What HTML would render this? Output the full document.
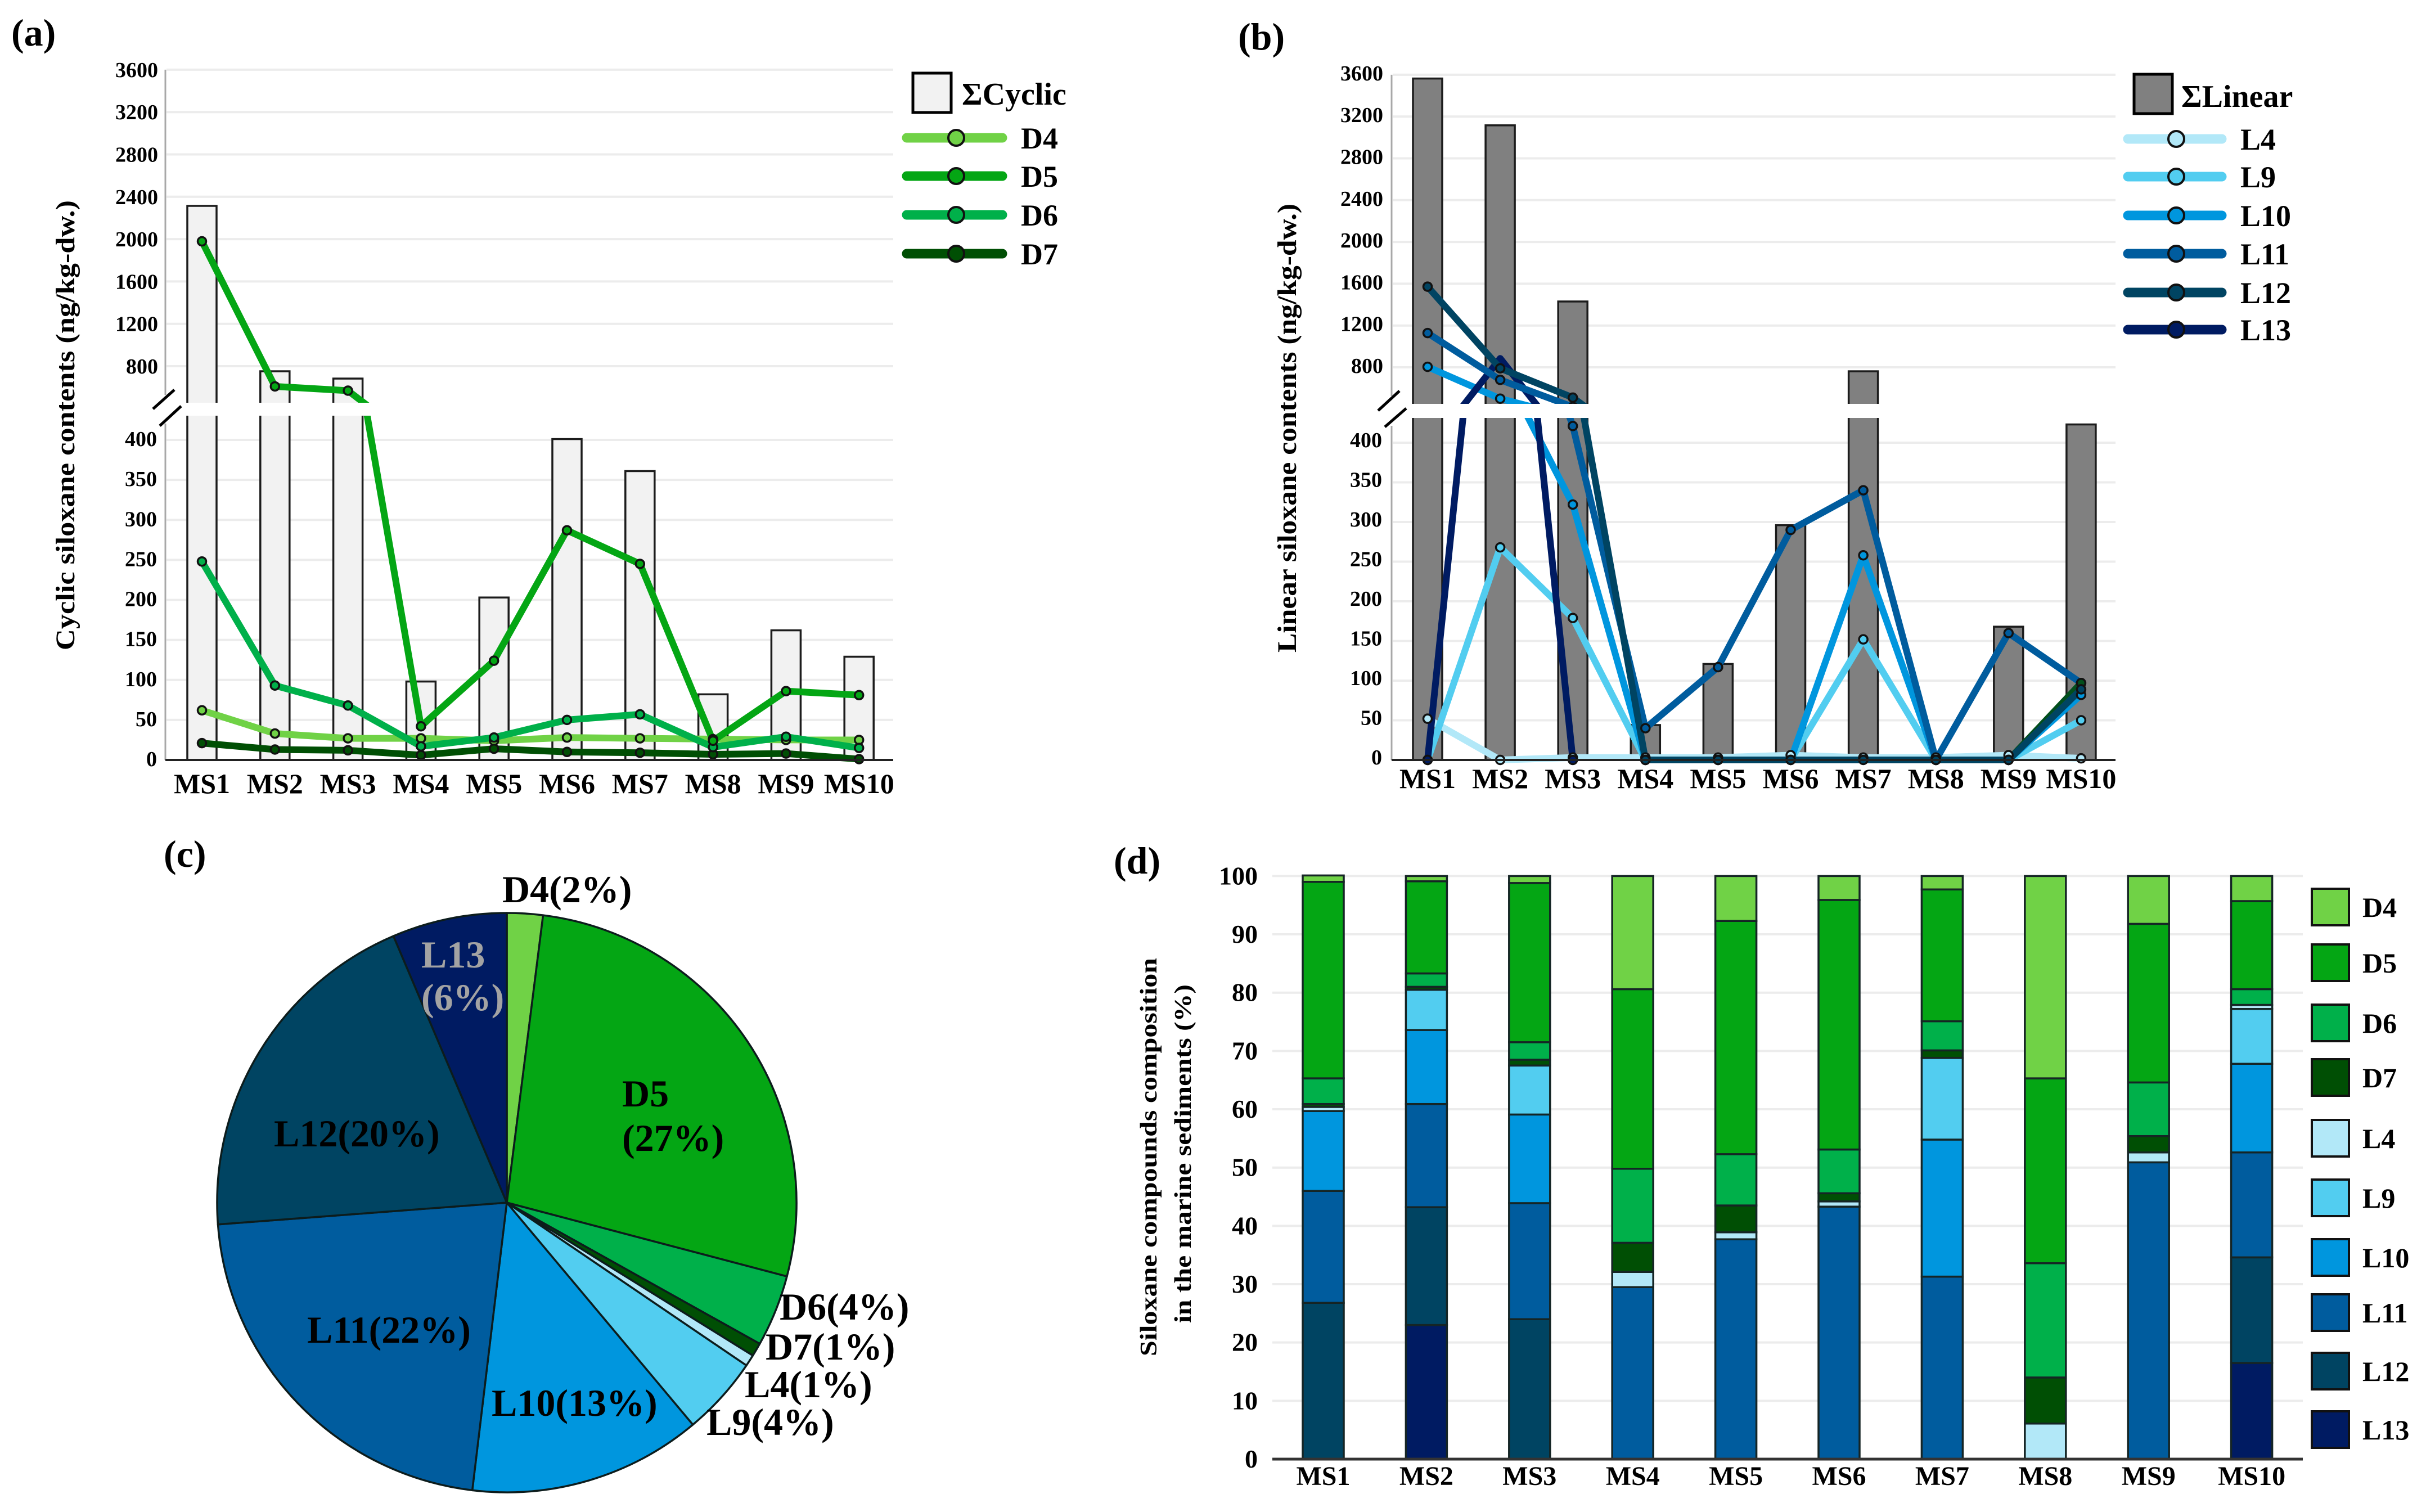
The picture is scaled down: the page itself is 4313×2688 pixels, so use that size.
<!DOCTYPE html>
<html lang="en">
<head>
<meta charset="utf-8">
<title>Siloxane contents in marine sediments</title>
<style>
html,body{margin:0;padding:0;background:#fff;}
svg{display:block;}
text{font-family:"Liberation Serif","DejaVu Serif",serif;font-weight:bold;fill:#000;}
</style>
</head>
<body>
<svg id="chart" xmlns="http://www.w3.org/2000/svg" width="4313" height="2688" viewBox="0 0 4313 2688">
  <rect x="0" y="0" width="4313" height="2688" fill="#ffffff"/>
  <defs>
    <clipPath id="clip-a-upper"><rect x="0" y="0" width="2100" height="716"/></clipPath>
    <clipPath id="clip-a-lower"><rect x="0" y="739" width="2100" height="640"/></clipPath>
    <clipPath id="clip-b-upper"><rect x="2200" y="0" width="1700" height="718"/></clipPath>
    <clipPath id="clip-b-lower"><rect x="2200" y="743" width="1700" height="640"/></clipPath>
  </defs>

  <text x="20" y="81" font-size="68">(a)</text>
  <text x="2201" y="88" font-size="68">(b)</text>
  <text x="291" y="1541" font-size="68">(c)</text>
  <text x="1980" y="1553" font-size="68">(d)</text>

  <g id="panel-a"></g>
  <g id="panel-b"></g>
  <g id="panel-c"></g>
  <g id="panel-d"></g>

  <text transform="translate(132 756) rotate(-90)" text-anchor="middle" font-size="48" textLength="800" lengthAdjust="spacingAndGlyphs">Cyclic siloxane contents (ng/kg-dw.)</text>
  <text transform="translate(2304 761) rotate(-90)" text-anchor="middle" font-size="48" textLength="798" lengthAdjust="spacingAndGlyphs">Linear siloxane contents (ng/kg-dw.)</text>
  <text transform="translate(2056 2057) rotate(-90)" text-anchor="middle" font-size="42" textLength="708" lengthAdjust="spacingAndGlyphs">Siloxane compounds composition</text>
  <text transform="translate(2117 2051) rotate(-90)" text-anchor="middle" font-size="42" textLength="602" lengthAdjust="spacingAndGlyphs">in the marine sediments (%)</text>

  <line x1="272" y1="727" x2="310" y2="693" stroke="#000" stroke-width="5"/>
  <line x1="284" y1="757" x2="322" y2="722" stroke="#000" stroke-width="5"/>
  <line x1="2450" y1="730" x2="2488" y2="695" stroke="#000" stroke-width="5"/>
  <line x1="2462" y1="759" x2="2500" y2="726" stroke="#000" stroke-width="5"/>

  <text x="893" y="1604" font-size="68">D4(2%)</text>
  <text x="1106" y="1967" font-size="68">D5</text>
  <text x="1106" y="2046" font-size="68">(27%)</text>
  <text x="1386" y="2346" font-size="68">D6(4%)</text>
  <text x="1361" y="2417" font-size="68">D7(1%)</text>
  <text x="1324" y="2484" font-size="68">L4(1%)</text>
  <text x="1256" y="2551" font-size="68">L9(4%)</text>
  <text x="874" y="2517" font-size="68">L10(13%)</text>
  <text x="546" y="2387" font-size="68">L11(22%)</text>
  <text x="487" y="2038" font-size="68">L12(20%)</text>
  <text x="749" y="1720" font-size="68" style="fill:#a3a3a3">L13</text>
  <text x="749" y="1796" font-size="68" style="fill:#a3a3a3">(6%)</text>
</svg>

<script>
// ---------- shared ----------
const siteNames = ['MS1','MS2','MS3','MS4','MS5','MS6','MS7','MS8','MS9','MS10'];
const upperTickLabels = [800,1200,1600,2000,2400,2800,3200,3600];
const lowerTickLabels = [0,50,100,150,200,250,300,350,400];

// ---------- panel a values ----------
const cyclicTotals = [2314,752,683,98,203,401,361,82,162,129];
const d4Values = [62,33,27,27,24,28,27,26,25,25];
const d7Values = [21,13,12,6,14,10,9,7,8,1];
const d6Values = [248,93,68,17,28,50,57,16,29,15];
const d5Values = [1979,609,569,42,124,287,245,24,86,81];

// ---------- panel b values ----------
const linearTotals = [3564,3116,1430,44,121,296,762,0,168,423];
const l4Values = [52,0,3,3,3,6,3,3,6,2];
const l9Values = [0,268,179,0,0,0,152,0,0,50];
const l10Values = [805,500,322,0,0,0,258,0,0,82];
const l13Values = [0,885,0,null,null,null,null,null,null,null];
const l13EndValues = [null,null,null,null,null,null,null,null,0,97];
const l12Values = [1572,790,510,0,0,0,0,0,0,89];
const l11Values = [1128,680,421,40,117,290,340,0,160,97];

// ---------- panel c values ----------
const pieNames = ['D4','D5','D6','D7','L4','L9','L10','L11','L12','L13'];
const pieShares = [2,27.1,4,0.75,0.65,4.4,13,21.9,19.8,6.4];

// ---------- panel d values (stack order bottom to top) ----------
const stackNames = ['L13','L12','L11','L10','L9','L4','D7','D6','D5','D4'];
const stackL13 = [0,23,0,0,0,0,0,0,0,16.5];
const stackL12 = [26.8,20.2,24,0,0,0,0,0,0,18.1];
const stackL11 = [19.2,17.7,19.9,29.5,37.7,43.3,31.3,0,50.9,18];
const stackL10 = [13.7,12.7,15.2,0,0,0,23.5,0,0,15.2];
const stackL9 = [0,6.9,8.4,0,0,0,14,0,0,9.4];
const stackL4 = [0.7,0,0,2.6,1.2,0.9,0,6.1,1.7,0.7];
const stackD7 = [0.5,0.5,1,5,4.6,1.4,1.3,7.9,2.8,0];
const stackD6 = [4.4,2.3,3,12.7,8.8,7.5,5,19.6,9.2,2.7];
const stackD5 = [33.7,15.8,27.3,30.8,40,42.8,22.6,31.7,27.2,15.1];
const stackD4 = [1.1,0.9,1.2,19.4,7.7,4.1,2.3,34.7,8.2,4.3];
const compositionTicks = [0,10,20,30,40,50,60,70,80,90,100];

// ---------- colours ----------
const colorD4 = '#70d246', colorD5 = '#04a614', colorD6 = '#00b04a', colorD7 = '#004f04';
const colorL4 = '#b2e8f8', colorL9 = '#52cdf0', colorL10 = '#0096de', colorL11 = '#005c9e', colorL12 = '#004462', colorL13 = '#001b62';
const pieColors = {D4:colorD4,D5:colorD5,D6:colorD6,D7:colorD7,L4:colorL4,L9:colorL9,L10:colorL10,L11:colorL11,L12:colorL12,L13:colorL13};

const NS = 'http://www.w3.org/2000/svg';
function make(tag, attrs, parent, txt) {
  const el = document.createElementNS(NS, tag);
  for (const k in attrs) el.setAttribute(k, attrs[k]);
  if (txt !== undefined) el.textContent = txt;
  parent.appendChild(el);
  return el;
}
function slug(s) { return String(s).toLowerCase(); }

function drawLinePanel(cfg) {
  const root = document.getElementById(cfg.rootId);
  const xAt = function (i) { return cfg.x0 + cfg.dx * i; };
  const yUpper = function (v) { return cfg.y800 - (v - 800) * cfg.kUpper; };
  const yLower = function (v) { return cfg.yBase - v * cfg.kLower; };

  // gridlines
  upperTickLabels.forEach(function (t) {
    const g = make('line', {x1: cfg.axisX + 2, x2: cfg.right, y1: yUpper(t), y2: yUpper(t), stroke: '#ececec', 'stroke-width': 4}, root);
    
    
    const lab = make('text', {x: cfg.tickX, y: yUpper(t) + cfg.tickShift + 13, 'text-anchor': 'end', 'font-size': 38}, root, t);
    
    
  });
  lowerTickLabels.forEach(function (t) {
    if (t > 0) {
      const g = make('line', {x1: cfg.axisX + 2, x2: cfg.right, y1: yLower(t), y2: yLower(t), stroke: '#ececec', 'stroke-width': 4}, root);
      
      
    }
    const lab = make('text', {x: cfg.tickX - 2, y: yLower(t) + cfg.tickShift + 11, 'text-anchor': 'end', 'font-size': 38}, root, t);
    
    
  });

  // y axis line, split at the break
  const axisTop = make('line', {x1: cfg.axisX, x2: cfg.axisX, y1: yUpper(3600), y2: cfg.yBreakTop - 14, stroke: '#a8a8a8', 'stroke-width': 3}, root);
  
  
  const axisBottom = make('line', {x1: cfg.axisX, x2: cfg.axisX, y1: cfg.yBreakBottom + 14, y2: cfg.yBase, stroke: '#a8a8a8', 'stroke-width': 3}, root);
  
  

  // both stacked sub-plots: every mark is drawn in each and clipped
  [{clip: cfg.clipUpper, y: yUpper, part: 'upper'}, {clip: cfg.clipLower, y: yLower, part: 'lower'}].forEach(function (plot) {
    const g = make('g', {'clip-path': 'url(#' + plot.clip + ')'}, root);
    
    
    cfg.totals.forEach(function (v, i) {
      if (v <= 0) return;
      const top = plot.y(v);
      const b = make('rect', {x: xAt(i) - 26, y: top, width: 52, height: Math.max(0, plot.y(0) - top), fill: cfg.barFill, stroke: '#1c1c1c', 'stroke-width': 3.5}, g);
      
      
    });
    cfg.series.forEach(function (s) {
      const pts = [];
      s.values.forEach(function (v, i) { if (v !== null) pts.push([xAt(i), plot.y(v)]); });
      const line = make('polyline', {points: pts.map(function (p) { return p.join(','); }).join(' '), fill: 'none', stroke: s.color, 'stroke-width': 12, 'stroke-linejoin': 'round'}, g);
      
      
    });
    cfg.series.forEach(function (s) {
      s.values.forEach(function (v, i) {
        if (v === null) return;
        if (s.noMarkerAt !== undefined && s.noMarkerAt === i) return;
        const c = make('circle', {cx: xAt(i), cy: plot.y(v), r: 7.5, fill: s.color, stroke: '#111', 'stroke-width': 3.5}, g);
        
        
      });
    });
  });

  const base = make('line', {x1: cfg.axisX, x2: cfg.right, y1: cfg.yBase, y2: cfg.yBase, stroke: '#222', 'stroke-width': 4}, root);
  
  

  siteNames.forEach(function (n, i) {
    const t = make('text', {x: xAt(i), y: cfg.catY, 'text-anchor': 'middle', 'font-size': 50}, root, n);
    
    
  });

  // legend
  const box = make('rect', {x: cfg.legend.boxX, y: cfg.legend.boxY, width: 68, height: 70, fill: cfg.barFill, stroke: '#000', 'stroke-width': 5}, root);
  
  
  const boxLab = make('text', {x: cfg.legend.boxTextX, y: cfg.legend.boxTextY, 'font-size': 56}, root, cfg.legend.title);
  
  
  cfg.legend.order.forEach(function (s, k) {
    const y = cfg.legend.rowY[k];
    const l = make('line', {x1: cfg.legend.lineX1, x2: cfg.legend.lineX2, y1: y, y2: y, stroke: s.color, 'stroke-width': 17, 'stroke-linecap': 'round'}, root);
    
    
    const c = make('circle', {cx: cfg.legend.markX, cy: y, r: 14, fill: s.color, stroke: '#111', 'stroke-width': 4}, root);
    
    
    const t = make('text', {x: cfg.legend.textX, y: y + 19, 'font-size': 54}, root, s.name);
    
    
  });
}

const D4 = {name: 'D4', values: d4Values, color: colorD4};
const D5 = {name: 'D5', values: d5Values, color: colorD5};
const D6 = {name: 'D6', values: d6Values, color: colorD6};
const D7 = {name: 'D7', values: d7Values, color: colorD7};
const L4 = {name: 'L4', values: l4Values, color: colorL4};
const L9 = {name: 'L9', values: l9Values, color: colorL9};
const L10 = {name: 'L10', values: l10Values, color: colorL10};
const L11 = {name: 'L11', values: l11Values, color: colorL11};
const L12 = {name: 'L12', values: l12Values, color: colorL12};
const L13 = {name: 'L13', values: l13Values, color: colorL13, noMarkerAt: 1};
const L13End = {name: 'L13-end', values: l13EndValues, color: '#024f1c'};

drawLinePanel({
  rootId: 'panel-a', x0: 359, dx: 129.8, axisX: 294, right: 1588, tickX: 281, tickShift: 0,
  y800: 651, kUpper: 75.3 / 400, yBase: 1351, kLower: 569 / 400,
  yBreakTop: 716, yBreakBottom: 739, clipUpper: 'clip-a-upper', clipLower: 'clip-a-lower',
  totals: cyclicTotals, barFill: '#f2f2f2', catY: 1410,
  series: [D4, D7, D6, D5],
  legend: {title: '\u03A3Cyclic', boxX: 1623, boxY: 130, boxTextX: 1710, boxTextY: 186,
    order: [D4, D5, D6, D7], rowY: [245, 313, 382, 451],
    lineX1: 1612, lineX2: 1782, markX: 1700, textX: 1815}
});

drawLinePanel({
  rootId: 'panel-b', x0: 2538, dx: 129.1, axisX: 2474, right: 3761, tickX: 2459, tickShift: -3,
  y800: 653, kUpper: 74.3 / 400, yBase: 1351, kLower: 564 / 400,
  yBreakTop: 718, yBreakBottom: 743, clipUpper: 'clip-b-upper', clipLower: 'clip-b-lower',
  totals: linearTotals, barFill: '#808080', catY: 1401,
  series: [L4, L9, L10, L13, L11, L13End, L12],
  legend: {title: '\u03A3Linear', boxX: 3794, boxY: 132, boxTextX: 3878, boxTextY: 190,
    order: [L4, L9, L10, L11, L12, L13], rowY: [247, 314, 383, 451, 520, 586],
    lineX1: 3783, lineX2: 3950, markX: 3869, textX: 3983}
});

// ---------- pie ----------
(function () {
  const root = document.getElementById('panel-c');
  const cx = 901, cy = 2138, r = 515;
  const total = pieShares.reduce(function (a, b) { return a + b; }, 0);
  let acc = 0;
  pieShares.forEach(function (share, i) {
    const a0 = acc / total * 2 * Math.PI;
    acc += share;
    const a1 = acc / total * 2 * Math.PI;
    const large = (a1 - a0) > Math.PI ? 1 : 0;
    const d = 'M' + cx + ' ' + cy +
      'L' + (cx + r * Math.sin(a0)) + ' ' + (cy - r * Math.cos(a0)) +
      'A' + r + ' ' + r + ' 0 ' + large + ' 1 ' + (cx + r * Math.sin(a1)) + ' ' + (cy - r * Math.cos(a1)) + 'Z';
    const p = make('path', {d: d, fill: pieColors[pieNames[i]], stroke: '#0c1c1c', 'stroke-width': 3.5, 'stroke-linejoin': 'round'}, root);
    
    
  });
})();

// ---------- stacked bars ----------
(function () {
  const root = document.getElementById('panel-d');
  const stackSeries = [stackL13, stackL12, stackL11, stackL10, stackL9, stackL4, stackD7, stackD6, stackD5, stackD4];
  const xAt = function (i) { return 2352.5 + 183.4 * i; };
  const yAt = function (v) { return 2594 - v * 10.366; };
  const barW = 73;

  compositionTicks.forEach(function (t) {
    if (t > 0) {
      const g = make('line', {x1: 2262, x2: 4094, y1: yAt(t), y2: yAt(t), stroke: '#ececec', 'stroke-width': 4}, root);
      
      
    }
    const lab = make('text', {x: 2236, y: yAt(t) + 15, 'text-anchor': 'end', 'font-size': 46}, root, t);
    
    
  });

  siteNames.forEach(function (n, i) {
    let acc = 0;
    stackSeries.forEach(function (vals, s) {
      const v = vals[i];
      if (v <= 0) return;
      const top = yAt(acc + v), bottom = yAt(acc);
      const rect = make('rect', {x: xAt(i) - barW / 2, y: top, width: barW, height: bottom - top, fill: pieColors[stackNames[s]], stroke: '#152525', 'stroke-width': 3.5}, root);
      
      
      acc += v;
    });
    const t = make('text', {x: xAt(i), y: 2640, 'text-anchor': 'middle', 'font-size': 48}, root, n);
    
    
  });

  const base = make('line', {x1: 2262, x2: 4094, y1: 2594, y2: 2594, stroke: '#333', 'stroke-width': 5}, root);
  
  

  const legendOrder = ['D4','D5','D6','D7','L4','L9','L10','L11','L12','L13'];
  const legendRowTop = [1580, 1679, 1786, 1883, 1991, 2097, 2203, 2301, 2405, 2509];
  legendOrder.forEach(function (n, k) {
    const sw = make('rect', {x: 4110, y: legendRowTop[k], width: 66, height: 65, fill: pieColors[n], stroke: '#111', 'stroke-width': 4}, root);
    
    
    const t = make('text', {x: 4200, y: legendRowTop[k] + 50, 'font-size': 50}, root, n);
    
    
  });
})();
</script>
</body>
</html>
